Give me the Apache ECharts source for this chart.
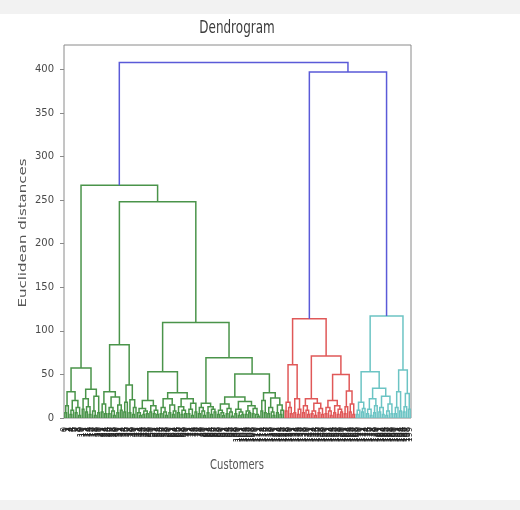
<!DOCTYPE html>
<html><head><meta charset="utf-8">
<script src="https://cdn.jsdelivr.net/npm/echarts@6/dist/echarts.min.js"></script>
<style>html,body{margin:0;padding:0;background:#fff}#c{width:520px;height:510px}</style>
</head><body><div id="c"></div>
<script>
// Dendrogram nodes: [mergeHeight, leftChild, rightChild]; a leaf is 1.
const greenA = [30, [14,[6,1,1],1], [20,[9,[4,1,1],1],[12,[6,1,1],[3,1,1]]]];
const greenB = [33, [22,[10,1,1],[13,[7,1,1],[4,1,1]]], [25,[8,1,[3,1,1]],[6,1,1]]];
const greenR2 = [84,
  [30, [16,[7,1,1],[5,1,1]], [24,[12,[5,1,1],[8,1,[3,1,1]]],[15,[6,1,1],[9,1,1]]]],
  [38, [18,[7,1,1],1], [21,[6,1,1],[12,[4,1,1],1]]]];
const greenR4 = [53,
  [20, [11,[6,1,[3,1,1]],[8,[4,1,1],[5,1,1]]], [14,[7,1,1],[9,[5,1,1],[4,1,1]]]],
  [29, [22,[12,[5,1,1],[7,1,[3,1,1]]],[15,[6,1,1],[8,[4,1,1],1]]],
       [22,[13,[6,1,1],[9,[4,1,1],[5,1,1]]],[17,[10,[5,1,1],[3,1,1]],[7,1,1]]]]];
const greenR5 = [69,
  [17, [12,[5,1,1],[8,1,[3,1,1]]], [13,[6,1,1],[10,[4,1,1],[7,1,1]]]],
  [50.6,
    [24, [16,[9,[4,1,1],[6,1,[3,1,1]]],[11,[5,1,1],[7,1,[2,1,1]]]],
         [19,[10,[5,1,1],[7,[3,1,1],[4,1,1]]],[14,[8,[4,1,1],[6,1,1]],[11,[5,1,1],[4,1,[2,1,1]]]]]],
    [29, [20,[8,1,1],[6,1,1]], [23,[12,[5,1,1],[7,1,[3,1,1]]],[15,[6,1,1],[9,[4,1,1],1]]]]]];
const greenTree = [267, [57.5, greenA, greenB], [248, greenR2, [109.5, greenR4, greenR5]]];

const redTree = [114,
  [61, [18,[8,1,1],[12,1,[5,1,1]]], [22,[6,1,1],[10,[4,1,1],1]]],
  [71,
    [22, [14,[6,1,1],[9,1,[4,1,1]]], [17,[8,[5,1,1],[3,1,1]],[11,[6,1,1],[4,1,1]]]],
    [50, [20,[12,[5,1,1],[8,1,[3,1,1]]],[14,[6,1,1],[10,[4,1,1],[7,1,1]]]],
         [31,[13,[5,1,1],1],[16,[7,1,1],[4,1,1]]]]]];

const cyanTree = [117,
  [53, [18,[9,[4,1,1],1],[11,[7,1,1],1]],
       [34,[22,[10,[5,1,1],[3,1,1]],[14,[6,1,1],1]],[25,[12,[7,1,1],[4,1,1]],[16,[8,[3,1,1],1],[5,1,1]]]]],
  [55, [30,[12,[5,1,1],1],[8,1,1]], [28,[13,[7,1,1],1],[10,1,1]]]];

const upperMergeHeight = 397;   // red + cyan
const rootMergeHeight = 408;    // green + (red + cyan)
const yTicks = [0, 50, 100, 150, 200, 250, 300, 350, 400];
const yMax = 428;

const clusterColors = {green: '#4a944a', red: '#e05858', cyan: '#6cc4c4', blue: '#5a5ad8'};

// ---- build link polylines through the tree (matplotlib style: leaves at 5 + 10 i) ----
const links = {green: [], red: [], cyan: [], blue: []};
let leafCounter = 0;
function layout(node, colorKey) {
  if (node === 1) { const x = (leafCounter + 0.5) * 10; leafCounter++; return {x: x, h: 0}; }
  const a = layout(node[1], colorKey), b = layout(node[2], colorKey);
  links[colorKey].push([[a.x, a.h], [a.x, node[0]], [b.x, node[0]], [b.x, b.h]]);
  return {x: (a.x + b.x) / 2, h: node[0]};
}
const g = layout(greenTree, 'green');
const r = layout(redTree, 'red');
const c = layout(cyanTree, 'cyan');
const upX = (r.x + c.x) / 2;
links.blue.push([[r.x, r.h], [r.x, upperMergeHeight], [c.x, upperMergeHeight], [c.x, c.h]]);
links.blue.push([[g.x, g.h], [g.x, rootMergeHeight], [upX, rootMergeHeight], [upX, upperMergeHeight]]);
const nLeaves = leafCounter;
const leafLabels = Array.from({length: nLeaves}, (_, i) => String(i));

const font = 'DejaVu Sans';
const chart = echarts.init(document.getElementById('c'), null, {renderer: 'canvas'});
chart.setOption({
  animation: false,
  backgroundColor: '#ffffff',
  grid: {left: 64, right: 109, top: 45, bottom: 92, show: true, borderColor: '#8a8a8a', borderWidth: 1},
  xAxis: [
    {type: 'value', min: 0, max: nLeaves * 10, show: false},
    {type: 'category', data: leafLabels, position: 'bottom', boundaryGap: true,
     axisLine: {show: false}, axisTick: {show: false}, splitLine: {show: false},
     axisLabel: {interval: 0, rotate: 90, fontSize: 8, margin: 9, color: '#222', fontFamily: font}}
  ],
  yAxis: {type: 'value', min: 0, max: yMax, splitLine: {show: false},
    axisLine: {show: false},
    axisTick: {show: true, length: 4, customValues: yTicks, lineStyle: {color: '#8a8a8a'}},
    axisLabel: {customValues: yTicks, fontSize: 10, color: '#4a4a4a', fontFamily: font, margin: 10}},
  graphic: [
    {type: 'rect', shape: {x: 0, y: 0, width: 520, height: 14}, style: {fill: '#f2f2f2'}, silent: true},
    {type: 'rect', shape: {x: 0, y: 500, width: 520, height: 10}, style: {fill: '#f2f2f2'}, silent: true},
    {type: 'text', x: 237, y: 29, scaleY: 1.4,
     style: {text: 'Dendrogram', font: '12px "DejaVu Sans"', fill: '#3c3c3c', align: 'center', verticalAlign: 'middle', textAlign: 'center', textVerticalAlign: 'middle'}},
    {type: 'text', x: 237, y: 465, scaleY: 1.4,
     style: {text: 'Customers', font: '10px "DejaVu Sans"', fill: '#555', align: 'center', verticalAlign: 'middle', textAlign: 'center', textVerticalAlign: 'middle'}},
    {type: 'text', x: 23, y: 233, rotation: Math.PI / 2, scaleX: 1.5,
     style: {text: 'Euclidean distances', font: '10px "DejaVu Sans"', fill: '#555', align: 'center', verticalAlign: 'middle', textAlign: 'center', textVerticalAlign: 'middle'}}
  ],
  series: ['green', 'red', 'cyan', 'blue'].map(k => ({
    type: 'lines', coordinateSystem: 'cartesian2d', xAxisIndex: 0, yAxisIndex: 0,
    polyline: true, silent: true,
    lineStyle: {color: clusterColors[k], width: 1.5, opacity: 1},
    data: links[k].map(p => ({coords: p}))
  }))
});
</script></body></html>
